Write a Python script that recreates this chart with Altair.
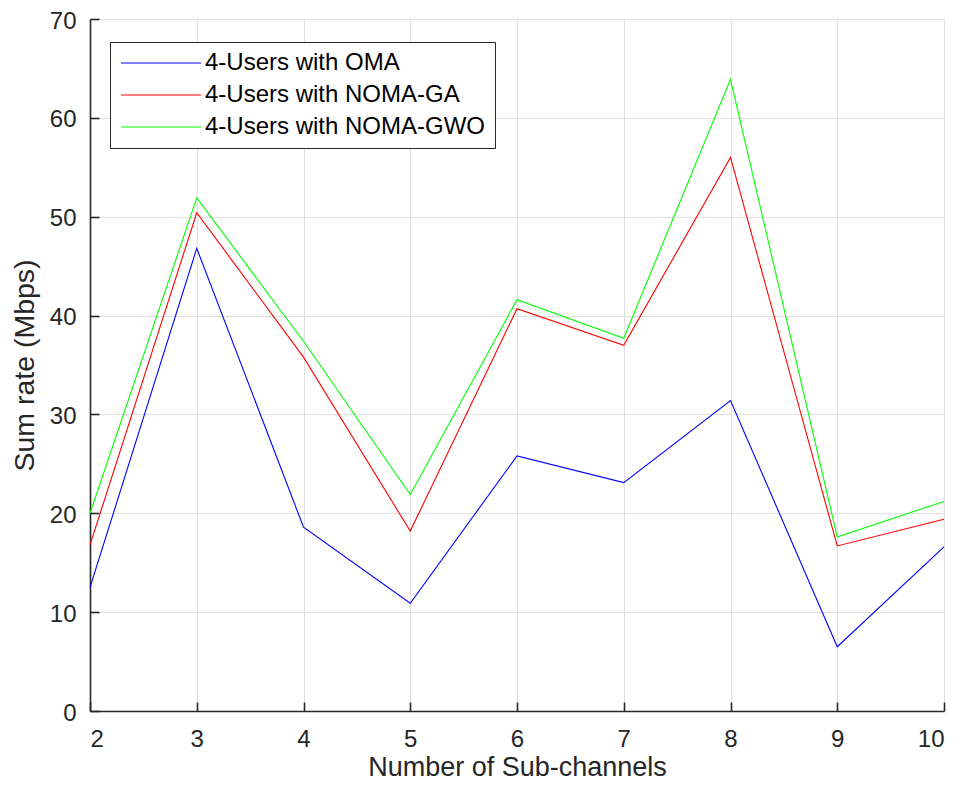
import altair as alt
import pandas as pd

x_vals = [2, 3, 4, 5, 6, 7, 8, 9, 10]
oma = [12.5, 46.8, 18.6, 10.9, 25.8, 23.1, 31.4, 6.5, 16.6]
noma_ga = [16.8, 50.4, 35.8, 18.2, 40.7, 37.0, 56.0, 16.7, 19.4]
noma_gwo = [20.0, 51.9, 37.4, 21.9, 41.6, 37.7, 63.9, 17.6, 21.2]

series_names = ["4-Users with OMA", "4-Users with NOMA-GA", "4-Users with NOMA-GWO"]
series_colors = ["#0000ff", "#ff0000", "#00ff00"]
x_ticks = [2, 3, 4, 5, 6, 7, 8, 9, 10]
y_ticks = [0, 10, 20, 30, 40, 50, 60, 70]

rows = []
for name, vals in zip(series_names, [oma, noma_ga, noma_gwo]):
    for xv, yv in zip(x_vals, vals):
        rows.append({"x": xv, "value": yv, "series": name})
df = pd.DataFrame(rows)

W, H = 854, 692
FONT = "Liberation Sans"
AX = "#262626"
GRID = "#e0e0e0"

xscale = alt.Scale(domain=[2, 10], nice=False, zero=False)
yscale = alt.Scale(domain=[0, 70], nice=False)

lines = alt.Chart(df).mark_line(strokeWidth=1.1).encode(
    x=alt.X("x:Q", scale=xscale, title="Number of Sub-channels",
            axis=alt.Axis(values=x_ticks, grid=True, gridColor=GRID, gridWidth=1,
                          ticks=False, tickSize=0, labelPadding=16,
                          labelFont=FONT, labelFontSize=24, labelColor=AX,
                          domainColor=AX, domainWidth=1.6,
                          titleFont=FONT, titleFontSize=27, titleFontWeight="normal",
                          titleColor=AX, titleBaseline="alphabetic", titleY=64.5)),
    y=alt.Y("value:Q", scale=yscale, title="Sum rate (Mbps)",
            axis=alt.Axis(values=y_ticks, grid=True, gridColor=GRID, gridWidth=1,
                          ticks=False, tickSize=0, labelPadding=14, labelOffset=2,
                          labelFont=FONT, labelFontSize=24, labelColor=AX,
                          domainColor=AX, domainWidth=1.6,
                          titleFont=FONT, titleFontSize=28.5, titleFontWeight="normal",
                          titleColor=AX, titleBaseline="alphabetic", titleX=-57)),
    color=alt.Color("series:N",
                    scale=alt.Scale(domain=series_names, range=series_colors),
                    sort=series_names,
                    legend=alt.Legend(title=None, orient="none", legendX=20, legendY=23,
                                      symbolType="M-1,0L7,0", symbolSize=400,
                                      symbolStrokeWidth=1.1,
                                      labelFont=FONT, labelFontSize=24, labelColor="#000000",
                                      labelLimit=600,
                                      labelOffset=62, rowPadding=8, padding=9,
                                      strokeColor=AX, fillColor="#ffffff")),
)

ticks_layer = alt.Chart(df).mark_line(opacity=0).encode(
    x=alt.X("x:Q", scale=xscale, title=None,
            axis=alt.Axis(orient="top", offset=-H, values=x_ticks, grid=False,
                          labels=False, domain=False, ticks=True, tickSize=9,
                          tickColor=AX, tickWidth=1.6)),
    y=alt.Y("value:Q", scale=yscale, title=None,
            axis=alt.Axis(orient="right", offset=-W, values=y_ticks, grid=False,
                          labels=False, domain=False, ticks=True, tickSize=9,
                          tickColor=AX, tickWidth=1.6)),
    detail="series:N",
)

chart = alt.layer(lines, ticks_layer).resolve_axis(
    x="independent", y="independent"
).properties(
    width=W, height=H,
    autosize=alt.AutoSizeParams(type="none"),
    padding={"left": 82, "top": 11, "right": 13, "bottom": 70},
    background="#ffffff",
).configure_view(stroke=None)

chart.save("out.html", embed_options={"renderer": "svg", "actions": False})
